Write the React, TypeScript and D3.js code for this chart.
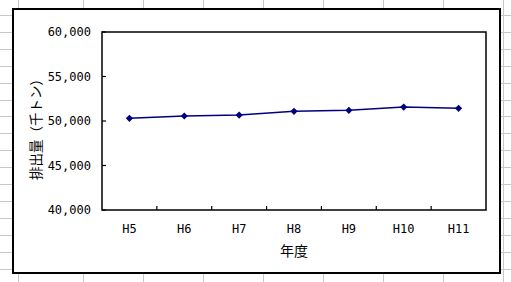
import React from "react";
import * as d3 from "d3";

const categories = ["H5", "H6", "H7", "H8", "H9", "H10", "H11"];
const values = [50300, 50560, 50670, 51090, 51200, 51570, 51430];
const yTicks = [40000, 45000, 50000, 55000, 60000];
const yTitle = "排出量（千トン）";
const xTitle = "年度";
const sheetCols = [18, 83, 143, 203, 263, 323, 383, 443, 503];

const W = 511;
const H = 282;
const plot = { left: 102, top: 32, right: 486, bottom: 210 };

export default function App() {
  const x = d3
    .scaleBand<string>()
    .domain(categories)
    .range([plot.left, plot.right])
    .paddingInner(0)
    .paddingOuter(0);
  const y = d3.scaleLinear().domain([40000, 60000]).range([plot.bottom, plot.top]);
  const fmt = d3.format(",");
  const cx = (c: string) => (x(c) as number) + x.bandwidth() / 2;
  const line = d3
    .line<number>()
    .x((_, i) => cx(categories[i]))
    .y((d) => y(d));
  const sheetRows = d3.range(0, 17).map((k) => 15 + k * 16.9);
  const marker = d3.symbol(d3.symbolSquare, 26)();

  return (
    <svg
      width={W}
      height={H}
      style={{ position: "absolute", left: 0, top: 0, background: "#fff" }}
    >
      {/* spreadsheet grid background */}
      <g stroke="#c8c8c8" strokeWidth={1}>
        {sheetCols.map((c) => (
          <line key={"c" + c} x1={c + 0.5} x2={c + 0.5} y1={0} y2={H} />
        ))}
        {sheetRows.map((r) => (
          <line key={"r" + r} x1={0} x2={W} y1={Math.round(r) + 0.5} y2={Math.round(r) + 0.5} />
        ))}
      </g>
      {/* chart area */}
      <rect x={13} y={9} width={487} height={264} fill="#fff" stroke="#000" strokeWidth={2} />
      {/* plot area */}
      <rect
        x={plot.left}
        y={plot.top}
        width={plot.right - plot.left}
        height={plot.bottom - plot.top}
        fill="#fff"
        stroke="#000"
        strokeWidth={1.5}
      />
      {/* y ticks */}
      <g fontFamily="DejaVu Sans Mono" fontSize={12} fill="#000">
        {yTicks.map((t) => (
          <g key={t}>
            <line x1={plot.left} x2={plot.left + 4} y1={y(t)} y2={y(t)} stroke="#000" strokeWidth={1.2} />
            <text x={plot.left - 11} y={y(t)} dy="0.36em" textAnchor="end">
              {fmt(t)}
            </text>
          </g>
        ))}
      </g>
      {/* x ticks */}
      <g fontFamily="DejaVu Sans Mono" fontSize={12} fill="#000">
        {categories.slice(1).map((c) => (
          <line
            key={"t" + c}
            x1={x(c) as number}
            x2={x(c) as number}
            y1={plot.bottom}
            y2={plot.bottom - 4}
            stroke="#000"
            strokeWidth={1.2}
          />
        ))}
        {categories.map((c) => (
          <text key={c} x={cx(c)} y={233} textAnchor="middle">
            {c}
          </text>
        ))}
      </g>
      {/* series */}
      <path d={line(values) || ""} fill="none" stroke="#000080" strokeWidth={1.5} />
      {values.map((v, i) => (
        <path
          key={i}
          d={marker || ""}
          transform={`translate(${cx(categories[i])},${y(v)}) rotate(45)`}
          fill="#000080"
        />
      ))}
      {/* titles */}
      <text
        x={(plot.left + plot.right) / 2}
        y={256}
        textAnchor="middle"
        fontFamily="Noto Sans CJK JP"
        fontSize={14}
        fill="#000"
      >
        {xTitle}
      </text>
      <text
        transform={`translate(41,126) rotate(-90)`}
        textAnchor="middle"
        fontFamily="Noto Sans CJK JP"
        fontSize={13.5}
        fill="#000"
      >
        {yTitle}
      </text>
    </svg>
  );
}
